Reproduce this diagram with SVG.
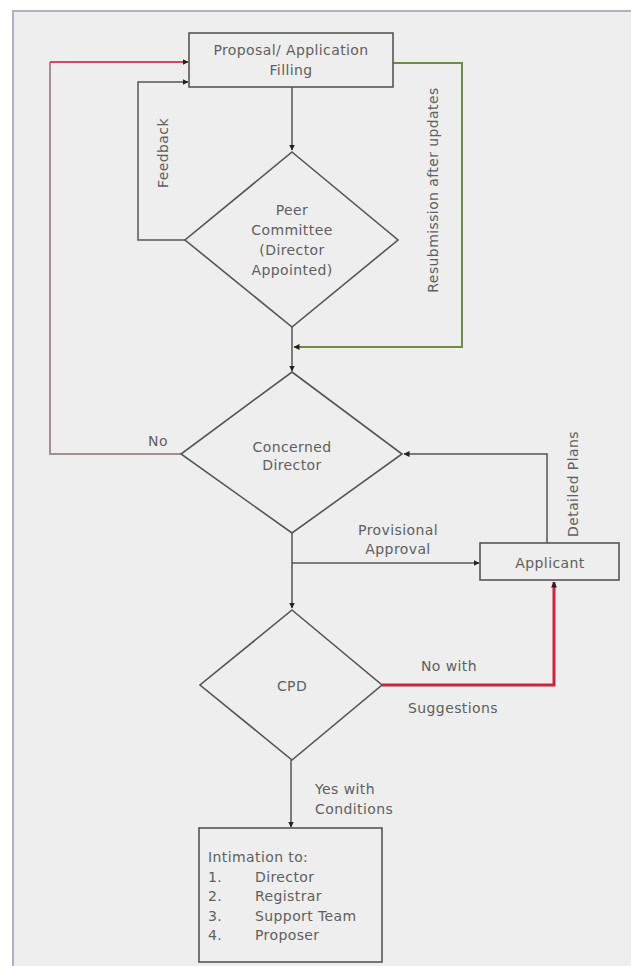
<svg xmlns="http://www.w3.org/2000/svg" width="631" height="966" viewBox="0 0 631 966">
<defs>
<style>
.t{font-family:"DejaVu Sans","Liberation Sans",sans-serif;font-size:14px;letter-spacing:0.4px;fill:#606060;text-anchor:middle}
.l{text-anchor:start}
.shape{fill:#eeeeee;stroke:#555;stroke-width:1.6}
.c{fill:none;stroke:#555;stroke-width:1.5}
</style>
<marker id="ah" viewBox="0 0 6 6" refX="5.5" refY="3" markerWidth="6" markerHeight="6" orient="auto" markerUnits="userSpaceOnUse">
<path d="M0,0 L6,3 L0,6 z" fill="#222"/>
</marker>
</defs>
<rect x="0" y="0" width="631" height="966" fill="#ffffff"/>
<rect x="13" y="11" width="630" height="970" fill="#eeeeee" stroke="#a9b4c2" stroke-width="2"/>

<g id="connectors">
<path class="c" d="M292,87 V150" marker-end="url(#ah)"/>
<path class="c" d="M185,240 H138 V82 H188" marker-end="url(#ah)"/>
<path d="M393,63 H462 V347 H294" fill="none" stroke="#6f8f3f" stroke-width="2" marker-end="url(#ah)"/>
<path class="c" d="M292,327 V371" marker-end="url(#ah)"/>
<path d="M181,454 H50 V62" fill="none" stroke="#a58d91" stroke-width="2"/>
<path d="M50,62 H188" fill="none" stroke="#d9485a" stroke-width="2" marker-end="url(#ah)"/>
<path class="c" d="M547,543 V454 H404" marker-end="url(#ah)"/>
<path class="c" d="M292,533 V608" marker-end="url(#ah)"/>
<path class="c" d="M292,563 H479" marker-end="url(#ah)"/>
<path d="M382,685 H554 V582" fill="none" stroke="#c8283c" stroke-width="3" marker-end="url(#ah)"/>
<path class="c" d="M291,760 V827" marker-end="url(#ah)"/>
<text class="t" transform="translate(168,153) rotate(-90)">Feedback</text>
<text class="t" transform="translate(438,190) rotate(-90)">Resubmission after updates</text>
<text class="t" transform="translate(578,484) rotate(-90)">Detailed Plans</text>
<text class="t" x="158" y="446">No</text>
<text class="t" x="398" y="535">Provisional</text>
<text class="t" x="398" y="554">Approval</text>
<text class="t" x="449" y="671">No with</text>
<text class="t" x="453" y="713">Suggestions</text>
<text class="t l" x="315" y="794">Yes with</text>
<text class="t l" x="315" y="814">Conditions</text>
</g>

<g id="proposal">
<rect class="shape" x="189" y="33" width="204" height="54"/>
<text class="t" x="291" y="55">Proposal/ Application</text>
<text class="t" x="291" y="75">Filling</text>
</g>

<g id="peer">
<path class="shape" d="M292,152 L398,240 L292,327 L185,240 Z"/>
<text class="t" x="292" y="215">Peer</text>
<text class="t" x="292" y="235">Committee</text>
<text class="t" x="292" y="255">(Director</text>
<text class="t" x="292" y="275">Appointed)</text>
</g>

<g id="concerned">
<path class="shape" d="M292,372 L402,454 L292,533 L181,454 Z"/>
<text class="t" x="292" y="452">Concerned</text>
<text class="t" x="292" y="470">Director</text>
</g>

<g id="applicant">
<rect class="shape" x="480" y="543" width="139" height="37"/>
<text class="t" x="550" y="568">Applicant</text>
</g>

<g id="cpd">
<path class="shape" d="M292,610 L382,685 L292,760 L200,685 Z"/>
<text class="t" x="292" y="691">CPD</text>
</g>

<g id="intimation">
<rect class="shape" x="199" y="828" width="183" height="134"/>
<text class="t l" x="208" y="862">Intimation to:</text>
<text class="t l" x="208" y="882">1.</text><text class="t l" x="255" y="882">Director</text>
<text class="t l" x="208" y="901">2.</text><text class="t l" x="255" y="901">Registrar</text>
<text class="t l" x="208" y="921">3.</text><text class="t l" x="255" y="921">Support Team</text>
<text class="t l" x="208" y="940">4.</text><text class="t l" x="255" y="940">Proposer</text>
</g>
</svg>
